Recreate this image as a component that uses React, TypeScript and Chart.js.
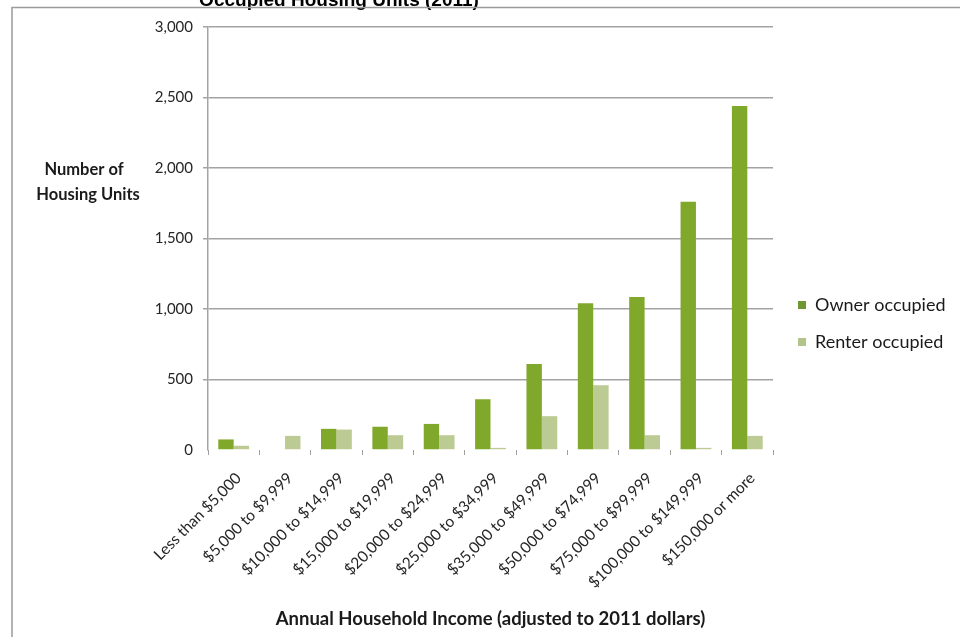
import React, { useEffect, useRef } from "react";
import { Chart, registerables } from "chart.js";

Chart.register(...registerables);

const categories = [
  "Less than $5,000",
  "$5,000 to $9,999",
  "$10,000 to $14,999",
  "$15,000 to $19,999",
  "$20,000 to $24,999",
  "$25,000 to $34,999",
  "$35,000 to $49,999",
  "$50,000 to $74,999",
  "$75,000 to $99,999",
  "$100,000 to $149,999",
  "$150,000 or more",
];
const ownerOccupied = [75, 0, 150, 165, 185, 360, 610, 1040, 1085, 1760, 2440];
const renterOccupied = [30, 100, 145, 105, 105, 15, 240, 460, 105, 15, 100];
const seriesNames = ["Owner occupied", "Renter occupied"];
const chartTitle = "Occupied Housing Units (2011)";
const yTitleLines = ["Number of", "Housing Units"];
const xTitle = "Annual Household Income (adjusted to 2011 dollars)";

const OWNER_COLOR = "#80a92c";
const RENTER_COLOR = "#bccb94";
const OWNER_MARK = "#6f9630";
const RENTER_MARK = "#b3c48a";
const FONT = "Lato, 'Open Sans', sans-serif";

const decorPlugin = {
  id: "decor",
  afterDraw(chart: any) {
    const ctx = chart.ctx as CanvasRenderingContext2D;
    ctx.save();
    // clipped title
    ctx.fillStyle = "#000";
    ctx.font = "bold 19px 'Liberation Sans', Arial, sans-serif";
    ctx.textAlign = "center";
    ctx.textBaseline = "alphabetic";
    ctx.fillText(chartTitle, 339, 6);

    // frame lines
    ctx.strokeStyle = "#9a9a9a";
    ctx.lineWidth = 1.5;
    ctx.beginPath();
    ctx.moveTo(12, 637);
    ctx.lineTo(12, 7.5);
    ctx.lineTo(960, 7.5);
    ctx.stroke();

    // y title
    ctx.font = `bold 16.5px ${FONT}`;
    ctx.fillStyle = "#1a1a1a";
    ctx.textAlign = "center";
    ctx.textBaseline = "middle";
    ctx.fillText(yTitleLines[0], 84, 170);
    ctx.fillText(yTitleLines[1], 88, 195);

    // legend
    const items = [
      { t: seriesNames[0], c: OWNER_MARK, y: 305 },
      { t: seriesNames[1], c: RENTER_MARK, y: 342 },
    ];
    ctx.font = `18px ${FONT}`;
    ctx.textAlign = "left";
    for (const it of items) {
      ctx.fillStyle = it.c;
      ctx.fillRect(798, it.y - 4, 8, 8);
      ctx.fillStyle = "#1a1a1a";
      ctx.fillText(it.t, 815, it.y);
    }
    ctx.restore();
  },
};

export default function App() {
  const ref = useRef<HTMLCanvasElement | null>(null);
  useEffect(() => {
    if (!ref.current) return;
    const chart = new Chart(ref.current, {
      type: "bar",
      data: {
        labels: categories,
        datasets: [
          {
            label: seriesNames[0],
            data: ownerOccupied,
            backgroundColor: OWNER_COLOR,
            categoryPercentage: 0.6,
            barPercentage: 1.0,
          },
          {
            label: seriesNames[1],
            data: renterOccupied,
            backgroundColor: RENTER_COLOR,
            categoryPercentage: 0.6,
            barPercentage: 1.0,
          },
        ],
      },
      options: {
        responsive: false,
        animation: false,
        devicePixelRatio: 1,
        layout: { padding: { top: 27, right: 187, bottom: 0, left: 0 } },
        plugins: {
          legend: { display: false },
          tooltip: { enabled: false },
          title: { display: false },
        },
        scales: {
          x: {
            grid: {
              display: true,
              offset: true,
              drawOnChartArea: false,
              drawTicks: true,
              tickLength: 5,
              color: "#a0a0a0",
            },
            border: { display: false },
            ticks: {
              autoSkip: false,
              minRotation: 45,
              maxRotation: 45,
              labelOffset: 5,
              padding: 14,
              color: "#262626",
              font: { family: FONT, size: 15.5 },
            },
            title: {
              display: true,
              text: xTitle,
              color: "#1a1a1a",
              font: { family: FONT, size: 18.5, weight: "bold" },
              padding: { top: 0, bottom: 7 },
            },
            afterFit(scale: any) {
              scale.height = 187;
            },
          },
          y: {
            min: 0,
            max: 3000,
            ticks: {
              stepSize: 500,
              padding: 10,
              color: "#262626",
              font: { family: FONT, size: 15 },
              callback: (v: any) => Number(v).toLocaleString("en-US"),
            },
            grid: {
              color: (c: any) => (c.tick && c.tick.value === 0 ? "rgba(0,0,0,0)" : "#a3a3a3"),
              lineWidth: 1.5,
              drawTicks: true,
              tickLength: 5,
            },
            border: { display: true, color: "#a3a3a3", width: 1.5 },
            afterFit(scale: any) {
              scale.width = 208;
            },
          },
        },
      },
      plugins: [decorPlugin],
    });
    return () => chart.destroy();
  }, []);
  return (
    <div style={{ position: "absolute", left: 0, top: 0, width: 960, height: 637, background: "#fff" }}>
      <canvas ref={ref} width={960} height={637} style={{ display: "block" }} />
    </div>
  );
}
